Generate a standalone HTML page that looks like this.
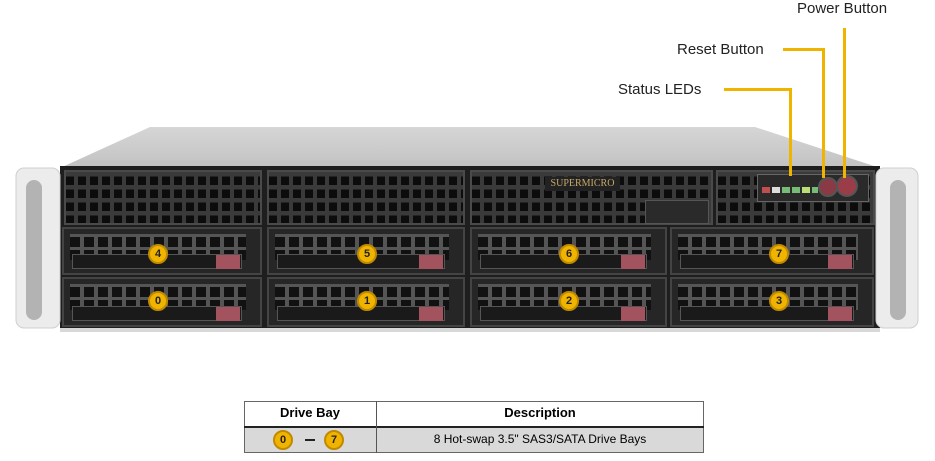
<!DOCTYPE html>
<html><head><style>
body{margin:0;width:935px;height:461px;background:#fff;position:relative;overflow:hidden;font-family:"Liberation Sans",sans-serif}
.a{position:absolute}
.vent{background-image:linear-gradient(90deg,transparent 65%,#3a3a3a 65%),linear-gradient(0deg,transparent 65%,#3a3a3a 65%);background-size:12px 13px;background-color:#0c0c0c;border:2px solid #4a4a4a;box-sizing:border-box}
.bay{background:#262626;border:2px solid #444;box-sizing:border-box}
.bay .g{position:absolute;left:6px;right:14px;top:5px;height:26px;background-color:#111;background-image:linear-gradient(90deg,transparent 72%,#555 72%),linear-gradient(0deg,transparent 78%,#555 78%);background-size:14px 13px}
.bay .h{position:absolute;left:8px;right:18px;bottom:4px;height:13px;background:#1a1a1a;border:1px solid #555}
.bay .r{position:absolute;right:20px;bottom:4px;width:24px;height:14px;background:#a3535e}
.bd{position:absolute;width:20px;height:20px;border-radius:50%;background:#f0b400;border:2px solid #c08a00;box-sizing:border-box;font:bold 11px "Liberation Sans",sans-serif;text-align:center;line-height:16px;color:#222}
.y{position:absolute;background:#f0b400}
.t{position:absolute;font-size:15px;color:#222}
</style></head><body>
<svg class="a" style="left:0;top:0" width="935" height="340">
<defs><linearGradient id="tp" x1="0" y1="0" x2="0" y2="1"><stop offset="0" stop-color="#d6d6d6"/><stop offset="1" stop-color="#c2c2c2"/></linearGradient></defs>
<polygon points="150,127 755,127 880,168 60,168" fill="url(#tp)"/>
<rect x="60" y="166" width="820" height="166" fill="#1e1e1e"/>
<rect x="60" y="328" width="820" height="4" fill="#d8d8d8"/>
<rect x="16" y="168" width="44" height="160" rx="8" fill="#ececec" stroke="#cfcfcf"/>
<rect x="26" y="180" width="16" height="140" rx="8" fill="#b3b3b3"/>
<rect x="876" y="168" width="42" height="160" rx="8" fill="#ececec" stroke="#cfcfcf"/>
<rect x="890" y="180" width="16" height="140" rx="8" fill="#b3b3b3"/>
</svg>
<div class="a vent" style="left:64px;top:170px;width:198px;height:55px"></div>
<div class="a vent" style="left:267px;top:170px;width:198px;height:55px"></div>
<div class="a vent" style="left:470px;top:170px;width:243px;height:55px"></div>
<div class="a" style="left:645px;top:200px;width:62px;height:22px;background:#2a2a2a;border:1px solid #555"></div>
<div class="a" style="left:545px;top:177px;width:75px;height:14px;background:#222;color:#c9a86a;font:10px 'Liberation Serif',serif;text-align:center;line-height:14px">SUPERMICRO</div>
<div class="a vent" style="left:716px;top:170px;width:159px;height:55px"></div>
<div class="a" style="left:757px;top:174px;width:110px;height:26px;background:#2a2a2a;border:1px solid #666"></div>
<div class="a" style="left:762px;top:187px;width:56px;height:6px;background:linear-gradient(90deg,#c05050 0 8px,transparent 8px 10px,#ddd 10px 18px,transparent 18px 20px,#7b7 20px 28px,transparent 28px 30px,#7b7 30px 38px,transparent 38px 40px,#bd7 40px 48px,transparent 48px 50px,#7b7 50px 56px)"></div>
<div class="a" style="left:818px;top:177px;width:16px;height:16px;border-radius:50%;background:#8a3a44;border:2px solid #555"></div>
<div class="a" style="left:836px;top:175px;width:18px;height:18px;border-radius:50%;background:#9a3d48;border:2px solid #555"></div>

<div class="a bay" style="left:62px;top:227px;width:200px;height:48px"><div class="g"></div><div class="h"></div><div class="r"></div></div>
<div class="a bay" style="left:267px;top:227px;width:198px;height:48px"><div class="g"></div><div class="h"></div><div class="r"></div></div>
<div class="a bay" style="left:470px;top:227px;width:197px;height:48px"><div class="g"></div><div class="h"></div><div class="r"></div></div>
<div class="a bay" style="left:670px;top:227px;width:204px;height:48px"><div class="g"></div><div class="h"></div><div class="r"></div></div>
<div class="a bay" style="left:62px;top:277px;width:200px;height:50px"><div class="g"></div><div class="h"></div><div class="r"></div></div>
<div class="a bay" style="left:267px;top:277px;width:198px;height:50px"><div class="g"></div><div class="h"></div><div class="r"></div></div>
<div class="a bay" style="left:470px;top:277px;width:197px;height:50px"><div class="g"></div><div class="h"></div><div class="r"></div></div>
<div class="a bay" style="left:670px;top:277px;width:204px;height:50px"><div class="g"></div><div class="h"></div><div class="r"></div></div>

<div class="bd" style="left:148px;top:244px">4</div>
<div class="bd" style="left:357px;top:244px">5</div>
<div class="bd" style="left:559px;top:244px">6</div>
<div class="bd" style="left:769px;top:244px">7</div>
<div class="bd" style="left:148px;top:291px">0</div>
<div class="bd" style="left:357px;top:291px">1</div>
<div class="bd" style="left:559px;top:291px">2</div>
<div class="bd" style="left:769px;top:291px">3</div>

<div class="y" style="left:843px;top:28px;width:3px;height:150px"></div>
<div class="y" style="left:783px;top:48px;width:42px;height:3px"></div>
<div class="y" style="left:822px;top:48px;width:3px;height:130px"></div>
<div class="y" style="left:724px;top:88px;width:68px;height:3px"></div>
<div class="y" style="left:789px;top:88px;width:3px;height:88px"></div>
<div class="t" style="left:797px;top:0px">Power Button</div>
<div class="t" style="left:677px;top:41px">Reset Button</div>
<div class="t" style="left:618px;top:81px">Status LEDs</div>

<div class="a" style="left:244px;top:401px;width:460px;height:52px;border:1px solid #666;box-sizing:border-box"></div>
<div class="a" style="left:244px;top:426px;width:460px;height:2px;background:#222"></div>
<div class="a" style="left:245px;top:428px;width:458px;height:24px;background:#d9d9d9"></div>
<div class="a" style="left:376px;top:401px;width:1px;height:52px;background:#555"></div>
<div class="a" style="left:244px;top:405px;width:132px;text-align:center;font:bold 13px 'Liberation Sans',sans-serif">Drive Bay</div>
<div class="a" style="left:376px;top:405px;width:328px;text-align:center;font:bold 13px 'Liberation Sans',sans-serif">Description</div>
<div class="a" style="left:376px;top:432px;width:328px;text-align:center;font:12px 'Liberation Sans',sans-serif">8 Hot-swap 3.5" SAS3/SATA Drive Bays</div>
<div class="bd" style="left:273px;top:430px">0</div>
<div class="a" style="left:305px;top:439px;width:10px;height:2px;background:#222"></div>
<div class="bd" style="left:324px;top:430px">7</div>
</body></html>
